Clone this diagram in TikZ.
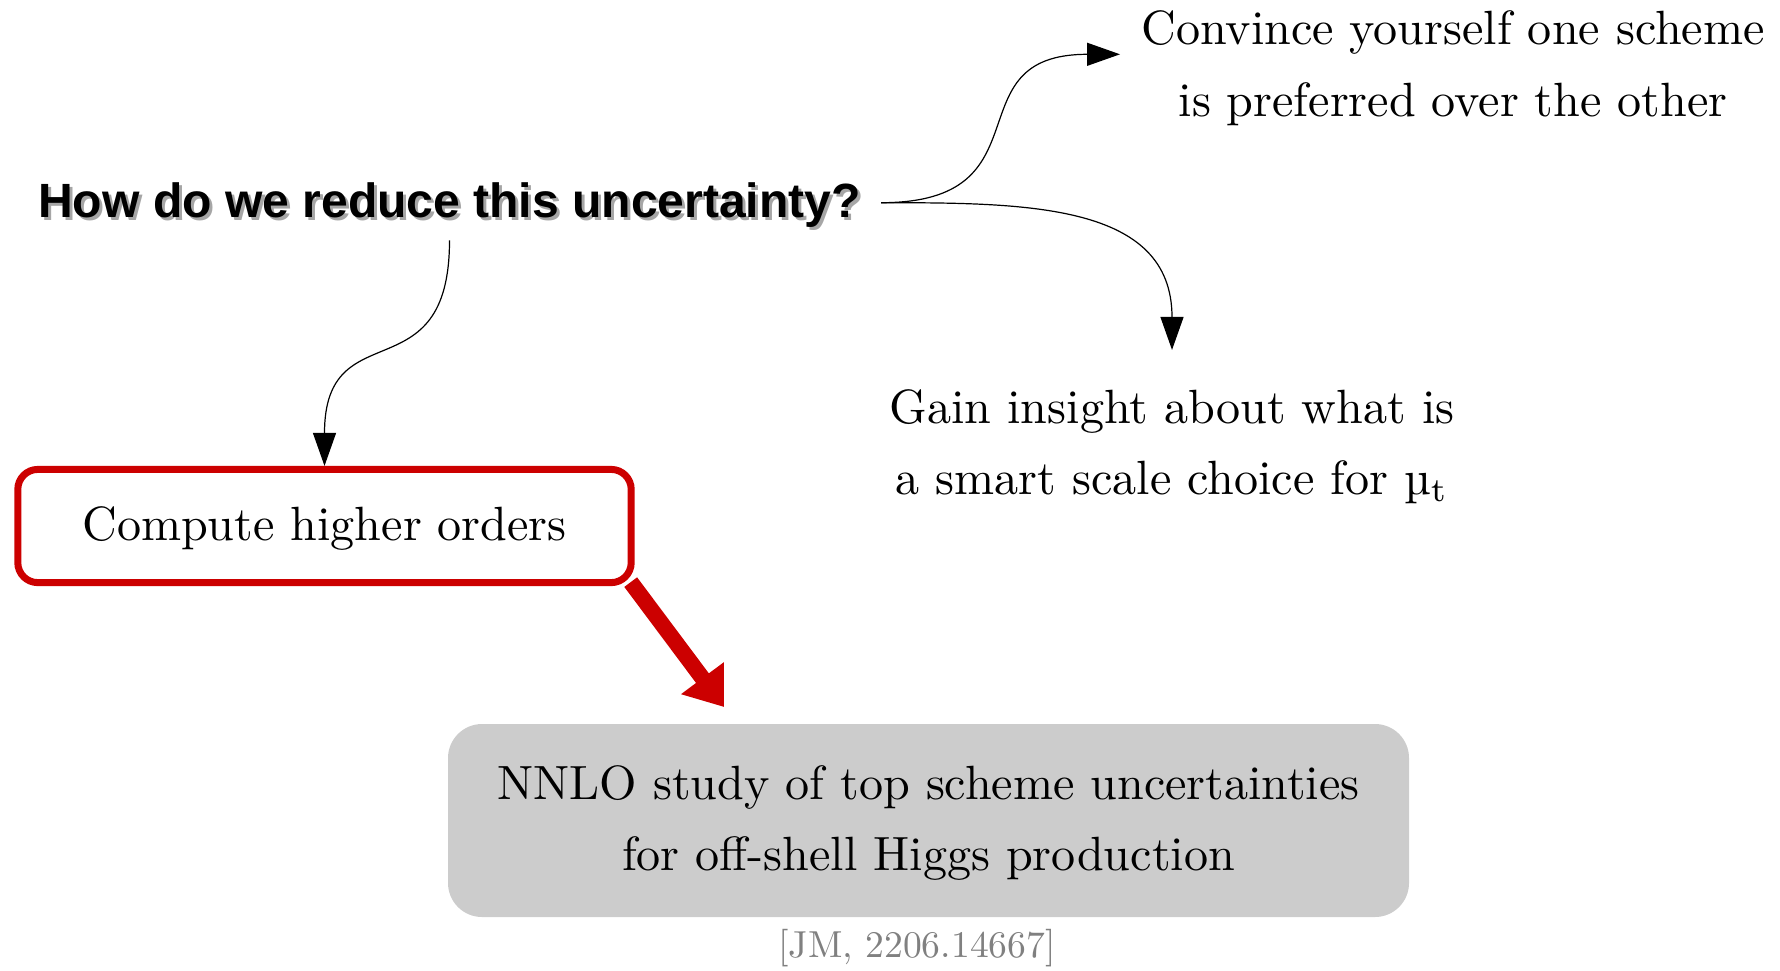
\documentclass[tikz,border=0pt]{standalone}
\usepackage{fontspec}
\newfontfamily\titlefont{Liberation Sans}
\usetikzlibrary{arrows.meta}
\definecolor{boxred}{HTML}{CC0000}
\definecolor{boxgray}{HTML}{CCCCCC}
\definecolor{citegray}{HTML}{808080}
\newcommand{\bigtxt}[1]{\scalebox{2.405}{\def\arraystretch{1.24}\begin{tabular}{@{}c@{}}#1\end{tabular}}}
\tikzset{
  titlestyle/.style={font=\titlefont\bfseries\fontsize{24.03}{28}\selectfont, inner xsep=10pt, inner ysep=6.05pt},
  plaintxt/.style={inner sep=0pt},
  redbox/.style={draw=boxred, line width=3.5pt, rounded corners=10pt, minimum width=306.7pt, minimum height=56.6pt, inner sep=0pt},
  graybox/.style={fill=boxgray, rounded corners=17pt, minimum width=480.5pt, minimum height=96.5pt, inner sep=0pt},
  thinarrow/.style={-{Triangle[length=16.5pt,width=11.5pt]}, line width=0.6pt, looseness=1.55},
  redarrow/.style={draw=boxred, line width=8pt, -{Triangle[length=18pt,width=25.5pt]}},
}
\begin{document}
\begin{tikzpicture}[x=0.5pt,y=-0.5pt]
\useasboundingbox (0,0) rectangle (1780,970);
\node[titlestyle, text=black!35] (tshadow) at (452.5,208.5) {How do we reduce this uncertainty?};
\node[titlestyle] (title) at (449.5,205.5) {How do we reduce this uncertainty?};
\node[plaintxt, inner xsep=10.5pt] (conv) at (1453,66.3) {\bigtxt{Convince yourself one scheme\\is preferred over the other}};
\node[plaintxt, inner ysep=11.3pt] (gain) at (1172,444.5) {\bigtxt{Gain insight about what is\\a smart scale choice for \textmu$_\mathrm{t}$}};
\node[redbox] (red) at (324.5,526) {\bigtxt{Compute higher orders}};
\node[graybox] (nnlo) at (928.5,820.5) {\bigtxt{NNLO study of top scheme uncertainties\\for off-shell Higgs production}};
\node[plaintxt, text=citegray] (cite) at (917,948) {\scalebox{1.88}{[JM, 2206.14667]}};
\coordinate (rtip) at (724,707);
\draw[thinarrow] ([yshift=1.4pt]title.east) to[out=0,in=180] ([yshift=6pt]conv.west);
\draw[thinarrow, looseness=1.15] ([yshift=1.4pt]title.east) to[out=0,in=90] (gain.north);
\draw[thinarrow] (title.south) to[out=-90,in=90] (red.north);
\draw[redarrow] ([shift={(-4,-4)}]red.south east) -- (rtip);
\end{tikzpicture}
\end{document}
